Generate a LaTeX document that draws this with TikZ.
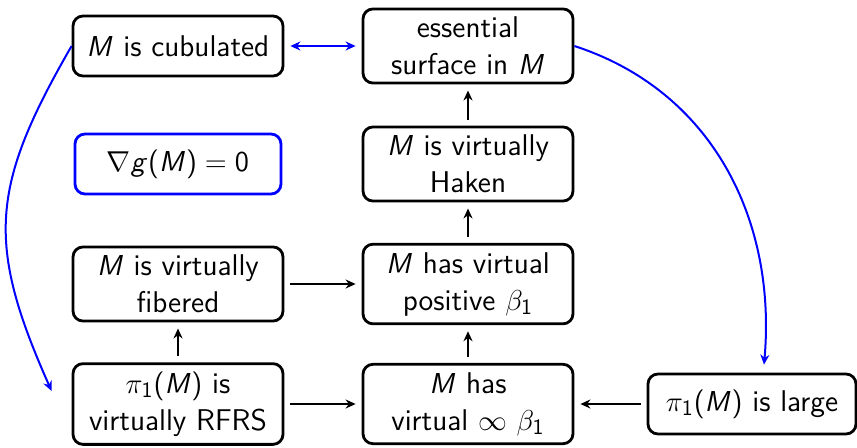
\documentclass[tikz,border=0pt]{standalone}
\usepackage{amsmath}
\usepackage{tikz}
\usetikzlibrary{positioning,arrows.meta}
\renewcommand{\familydefault}{\sfdefault}
\DeclareSymbolFont{sfletters}{OT1}{cmss}{m}{sl}
\DeclareMathSymbol{M}{\mathalpha}{sfletters}{`M}
\DeclareMathSymbol{g}{\mathalpha}{sfletters}{`g}
\SetSymbolFont{operators}{normal}{OT1}{cmss}{m}{n}
\tikzset{
  line/.style={-{Stealth[length=5pt,width=4.5pt]}, line width=0.8pt, shorten >=3pt, shorten <=3pt},
  biline/.style={line, {Stealth[length=5pt,width=4.5pt]}-{Stealth[length=5pt,width=4.5pt]}, blue, line width=1pt},
  curve/.style={-{Stealth[length=5pt,width=4.5pt]}, blue, line width=1pt},
  box/.style={draw, rounded corners=5pt, line width=1.4pt, align=center, inner sep=4pt,
    minimum width=105pt, minimum height=30pt, font=\fontsize{15}{18.5}\selectfont}
}
\begin{document}
\begin{tikzpicture}[node distance=60pt and 145pt, on grid]
  \useasboundingbox (0pt,0pt) rectangle (428.5pt,-223.5pt);
  \node[box] (cub) at (89pt,-23pt) {$M$ is cubulated};
  \node[box, right=of cub] (ess) {essential\\surface in $M$};
  \node[box, below=59pt of ess] (haken) {$M$ is virtually\\Haken};
  \node[box, below=of haken] (pos) {$M$ has virtual\\positive $\beta_1$};
  \node[box, below=of pos] (inf) {$M$ has\\virtual $\infty$ $\beta_1$};
  \node[box, left=of haken, draw=blue, minimum width=103pt] (grad) {$\nabla g(M) = 0$};
  \node[box, left=of pos] (fib) {$M$ is virtually\\fibered};
  \node[box, left=of inf] (rfrs) {$\pi_1(M)$ is\\virtually RFRS};
  \node[box, right=142pt of inf, minimum width=104pt] (large) {$\pi_1(M)$ is large};
  \draw[biline] (cub) -- (ess);
  \draw[line] (haken) -- (ess);
  \draw[line] (pos) -- (haken);
  \draw[line] (inf) -- (pos);
  \draw[line] (rfrs) -- (fib);
  \draw[line] (fib) -- (pos);
  \draw[line] (rfrs) -- (inf);
  \draw[line] (large) -- (inf);
  \draw[curve] (cub.west) to[out=-120, in=114, looseness=1.2] ([shift={(-10pt,6.5pt)}]rfrs.west);
  \draw[curve] (ess.east) to[out=-18, in=85] ([shift={(6pt,4pt)}]large.north);
\end{tikzpicture}
\end{document}
